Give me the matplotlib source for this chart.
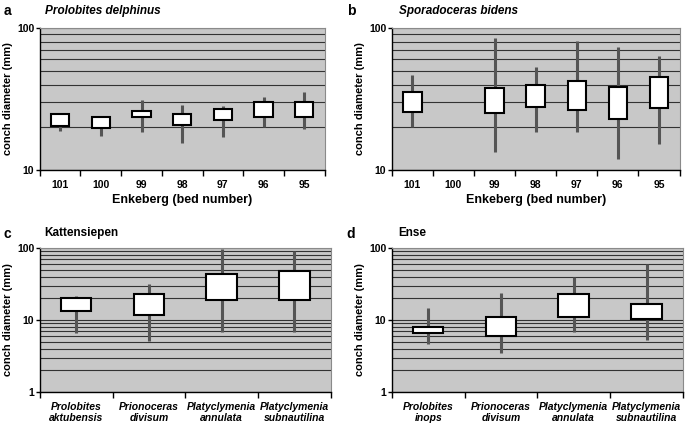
import matplotlib.pyplot as plt
from matplotlib.ticker import FixedLocator, NullFormatter

plt.rcParams['font.family'] = ['Liberation Sans', 'DejaVu Sans']
plt.rcParams['font.weight'] = 'bold'

# Enkeberg beds
beds = ['101', '100', '99', '98', '97', '96', '95']

# Prolobites delphinus
a_lo = [18.9, 17.5, 18.5, 15.4, 17.2, 20.2, 19.4]
a_q1 = [20.5, 19.9, 23.5, 20.9, 22.4, 23.8, 23.5]
a_q3 = [24.7, 23.8, 26.1, 25.0, 27.0, 30.0, 30.2]
a_hi = [25.4, 23.9, 31.2, 28.6, 28.3, 32.8, 35.3]

# Sporadoceras bidens (no data for bed 100)
b_lo = [20.2, None, 13.3, 18.4, 18.4, 11.9, 15.3]
b_q1 = [25.8, None, 25.1, 28.0, 26.5, 22.9, 27.5]
b_q3 = [35.7, None, 38.1, 39.8, 42.0, 38.3, 45.1]
b_hi = [46.3, None, 84.9, 52.8, 80.5, 73.0, 63.1]

# Kattensiepen
c_taxa = ['Prolobites\naktubensis', 'Prionoceras\ndivisum',
          'Platyclymenia\nannulata', 'Platyclymenia\nsubnautilina']
c_lo = [6.5, 5.1, 6.7, 6.7]
c_q1 = [13.1, 11.6, 19.0, 19.0]
c_q3 = [20.1, 23.0, 43.4, 47.2]
c_hi = [21.2, 31.8, 94.8, 89.8]

# Ense
d_taxa = ['Prolobites\ninops', 'Prionoceras\ndivisum',
          'Platyclymenia\nannulata', 'Platyclymenia\nsubnautilina']
d_lo = [4.7, 3.5, 6.7, 5.3]
d_q1 = [6.5, 5.9, 11.1, 10.3]
d_q3 = [7.9, 10.8, 22.8, 16.5]
d_hi = [14.5, 23.6, 39.0, 59.8]


def panel(ax, labels, lo, q1, q3, hi, ymin, bw, italic):
    n = len(labels)
    ax.set_facecolor('#c8c8c8')
    ax.set_yscale('log')
    ax.set_ylim(ymin, 100)
    ax.set_xlim(0, n)
    ax.yaxis.grid(True, which='both', color='#333333', lw=0.8, zorder=1)
    ax.set_axisbelow(True)
    for i in range(n):
        if lo[i] is None:
            continue
        x = i + 0.5
        ax.vlines(x, lo[i], hi[i], color='#555555', lw=2.2, zorder=2)
        ax.bar(x, q3[i] - q1[i], bottom=q1[i], width=bw, color='white',
               edgecolor='black', lw=1.5, zorder=3)
    ax.xaxis.set_major_locator(FixedLocator(range(n + 1)))
    ax.xaxis.set_major_formatter(NullFormatter())
    ax.xaxis.set_minor_locator(FixedLocator([i + 0.5 for i in range(n)]))
    ax.set_xticklabels(labels, minor=True, fontsize=7.5, fontweight='bold',
                       style='italic' if italic else 'normal', linespacing=1.1)
    ax.tick_params(axis='x', which='major', length=4, width=1, direction='out')
    ax.tick_params(axis='x', which='minor', length=0, pad=7)
    ax.tick_params(axis='y', which='major', length=3, width=1, labelsize=7.5, pad=1)
    ax.tick_params(axis='y', which='minor', length=0)
    ax.yaxis.set_minor_formatter(NullFormatter())
    ax.yaxis.set_major_formatter(plt.FuncFormatter(lambda v, p: '%d' % v))
    for s in ['left', 'bottom']:
        ax.spines[s].set_color('black')
        ax.spines[s].set_linewidth(1)
    for s in ['top', 'right']:
        ax.spines[s].set_color('#8a8a8a')
        ax.spines[s].set_linewidth(0.8)
    ax.set_ylabel('conch diameter (mm)', fontsize=8, fontweight='bold', labelpad=3)


fig = plt.figure(figsize=(6.85, 4.24), dpi=100)
ax_a = fig.add_axes([0.058, 0.599, 0.416, 0.335])
ax_b = fig.add_axes([0.572, 0.599, 0.420, 0.335])
ax_c = fig.add_axes([0.058, 0.0755, 0.425, 0.340])
ax_d = fig.add_axes([0.572, 0.0755, 0.425, 0.340])

panel(ax_a, beds, a_lo, a_q1, a_q3, a_hi, 10, 0.45, False)
panel(ax_b, beds, b_lo, b_q1, b_q3, b_hi, 10, 0.45, False)
panel(ax_c, c_taxa, c_lo, c_q1, c_q3, c_hi, 1, 0.42, True)
panel(ax_d, d_taxa, d_lo, d_q1, d_q3, d_hi, 1, 0.42, True)

for ax in [ax_a, ax_b]:
    ax.set_xlabel('Enkeberg (bed number)', fontsize=9, fontweight='bold', labelpad=3)

fig.text(0.005, 0.973, 'a', fontsize=10, fontweight='bold', va='center')
fig.text(0.066, 0.975, 'Prolobites delphinus', fontsize=8.5, fontweight='bold',
         style='italic', va='center')
fig.text(0.506, 0.973, 'b', fontsize=10, fontweight='bold', va='center')
fig.text(0.582, 0.975, 'Sporadoceras bidens', fontsize=8.5, fontweight='bold',
         style='italic', va='center')
fig.text(0.005, 0.448, 'c', fontsize=10, fontweight='bold', va='center')
fig.text(0.064, 0.45, 'Kattensiepen', fontsize=8.5, fontweight='bold', va='center')
fig.text(0.506, 0.448, 'd', fontsize=10, fontweight='bold', va='center')
fig.text(0.582, 0.45, 'Ense', fontsize=8.5, fontweight='bold', va='center')

fig.savefig('out.png', dpi=100)
